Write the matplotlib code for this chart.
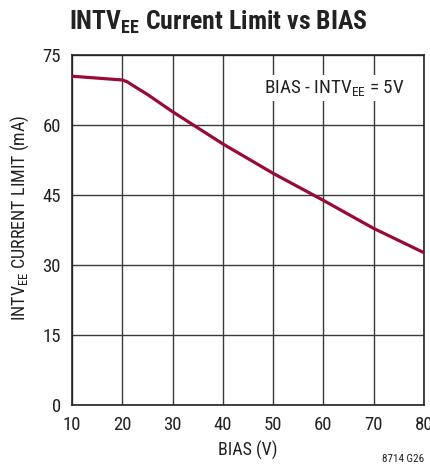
import matplotlib
matplotlib.use("Agg")
import matplotlib.pyplot as plt
from matplotlib import font_manager

names = {f.name for f in font_manager.fontManager.ttflist}
cands = ['Roboto Condensed', 'Archivo Narrow', 'PT Sans Narrow', 'IBM Plex Sans Condensed',
         'Barlow Semi Condensed', 'Liberation Sans Narrow', 'Roboto']
font = next((c for c in cands if c in names), 'DejaVu Sans')
plt.rcParams['font.family'] = [font, 'DejaVu Sans']
plt.rcParams['mathtext.fontset'] = 'custom'
plt.rcParams['mathtext.rm'] = font
plt.rcParams['mathtext.bf'] = font + ':bold'
plt.rcParams['mathtext.it'] = font

# data
bias = [10, 15, 20, 21, 22, 25, 30, 40, 50, 60, 70, 80]
current = [70.4, 70.0, 69.6, 69.2, 68.5, 66.5, 62.8, 55.9, 49.6, 43.8, 37.8, 32.6]
xticks = [10, 20, 30, 40, 50, 60, 70, 80]
yticks = [0, 15, 30, 45, 60, 75]

fig = plt.figure(figsize=(4.31, 4.72), dpi=100)
ax = fig.add_axes([0.167, 0.142, 0.817, 0.742])
ax.plot(bias, current, color='#990a35', lw=2.3, solid_capstyle='butt', zorder=3)
ax.set_xlim(10, 80)
ax.set_ylim(0, 75)
ax.set_xticks(xticks)
ax.set_yticks(yticks)
ax.grid(True, color='#3a3a3a', lw=1.0)
ax.tick_params(axis='x', length=0, labelsize=13.5, colors='#222222', pad=8)
ax.tick_params(axis='y', length=0, labelsize=13.5, colors='#222222', pad=8)
for s in ax.spines.values():
    s.set_color('#222222')
    s.set_linewidth(1.2)
ax.set_xlabel('BIAS (V)', fontsize=13, color='#222222', labelpad=5)
ax.set_ylabel(r'INTV$_{\mathrm{EE}}$ CURRENT LIMIT (mA)', fontsize=13.0, color='#222222')
ax.yaxis.set_label_coords(-0.116, 0.535)

ax.text(0.946, 0.905, r'BIAS - INTV$_{\mathrm{EE}}$ = 5V', transform=ax.transAxes,
        ha='right', va='center', fontsize=13.8, color='#222222', zorder=4,
        bbox=dict(facecolor='white', edgecolor='none', pad=2))

fig.text(0.506, 0.953, r'INTV$_{\mathbf{EE}}$ Current Limit vs BIAS', ha='center', va='center',
         fontsize=18.5, fontweight='bold', color='#222222')
fig.text(0.985, 0.018, '8714 G26', ha='right', va='bottom', fontsize=8, color='#222222')

fig.savefig('out.png', dpi=100)
